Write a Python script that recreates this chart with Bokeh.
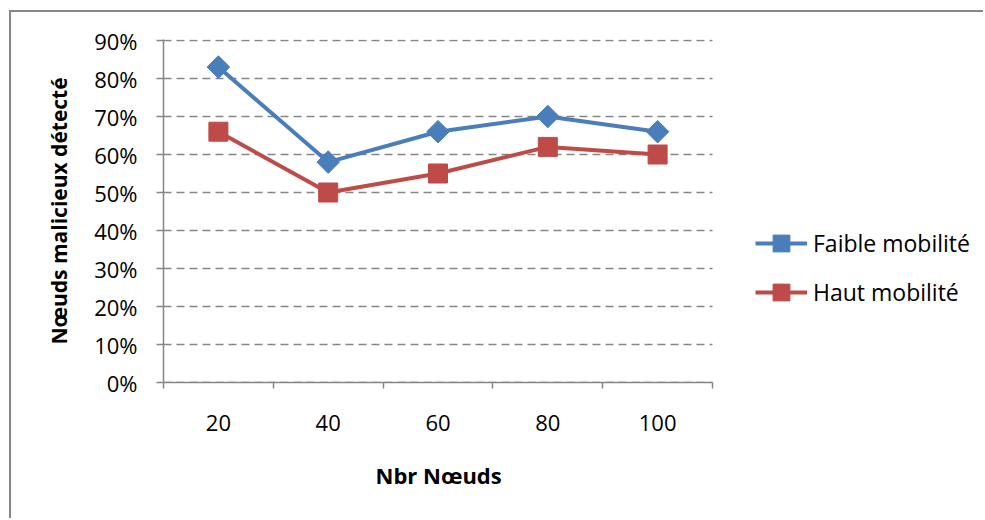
import numpy as np
from bokeh.plotting import figure
from bokeh.models import (FixedTicker, NumeralTickFormatter, Legend, LegendItem, Range1d, Title)
from bokeh.embed import file_html
from bokeh.resources import INLINE

# ---- data ----
categories = ["20", "40", "60", "80", "100"]
faible_mobilite = [0.83, 0.58, 0.66, 0.70, 0.66]
haut_mobilite = [0.66, 0.50, 0.55, 0.62, 0.60]
y_ticks = [0.0, 0.1, 0.2, 0.3, 0.4, 0.5, 0.6, 0.7, 0.8, 0.9]
series_names = ["Faible mobilité", "Haut mobilité"]
x_title = "Nbr Nœuds"
y_title = "Nœuds malicieux détecté"

BLUE = "#4A7EBB"
RED = "#BE4B48"
GRAY = "#868686"
FONT = "Open Sans"

n = len(categories)
xpos = [i + 0.5 for i in range(n)]
separators = [float(i) for i in range(n + 1)]

# canvas is offset by 9+2 px (left) and 10+2 px (top) for the outer chart border
W, H = 974, 508
left_b, top_b, bottom_b = 152, 27, 138
plot_w = 549                      # width of the category area in px
frame_w = W - left_b
frame_h = H - top_b - bottom_b
x_max = n * frame_w / plot_w      # frame continues to the right to host the legend
y_max = y_ticks[-1] * frame_h / (frame_h - 1)

p = figure(width=W, height=H, output_backend="svg", toolbar_location=None,
           x_range=Range1d(0, x_max), y_range=Range1d(0, y_max),
           min_border_left=left_b, min_border_right=0,
           min_border_top=top_b, min_border_bottom=bottom_b,
           margin=(10, 0, 0, 9),
           styles={"border-top": "2px solid #878787",
                   "border-left": "2px solid #878787"})
p.outline_line_color = None
p.background_fill_color = "white"
p.border_fill_color = "white"

# dashed horizontal grid over the category area only
p.segment(x0=[0] * len(y_ticks), x1=[n] * len(y_ticks), y0=y_ticks, y1=y_ticks,
          line_color=GRAY, line_width=1.6, line_dash="8 5", level="underlay")

# lines + markers
l1 = p.line(xpos, faible_mobilite, line_color=BLUE, line_width=4, line_join="round")
s1 = p.scatter(xpos, faible_mobilite, marker="square", angle=np.pi / 4, size=16,
               fill_color=BLUE, line_color=BLUE)
l2 = p.line(xpos, haut_mobilite, line_color=RED, line_width=4, line_join="round")
s2 = p.scatter(xpos, haut_mobilite, marker="square", size=19,
               fill_color=RED, line_color=RED)

# x axis
xa = p.xaxis[0]
xa.bounds = (0, n)
xa.ticker = FixedTicker(ticks=xpos, minor_ticks=separators)
xa.major_label_overrides = {x: c for x, c in zip(xpos, categories)}
xa.major_tick_out = 0
xa.major_tick_in = 0
xa.major_tick_line_color = None
xa.minor_tick_out = 6
xa.minor_tick_in = 0
xa.minor_tick_line_color = GRAY
xa.minor_tick_line_width = 1.5
xa.axis_line_color = GRAY
xa.axis_line_width = 1.5
xa.major_label_text_font = FONT
xa.major_label_text_font_size = "22px"
xa.major_label_text_color = "black"
xa.major_label_standoff = 26

# x axis title, centred under the category area
xt = Title(text=x_title, align="left", offset=212, vertical_align="top", standoff=52,
           text_font=FONT, text_font_style="bold", text_font_size="22px",
           text_color="black")
p.add_layout(xt, "below")

# y axis
ya = p.yaxis[0]
ya.ticker = FixedTicker(ticks=y_ticks, minor_ticks=[])
ya.formatter = NumeralTickFormatter(format="0%")
ya.major_tick_out = 7
ya.major_tick_in = 0
ya.major_tick_line_color = GRAY
ya.major_tick_line_width = 1.5
ya.minor_tick_out = 0
ya.minor_tick_in = 0
ya.axis_line_color = GRAY
ya.axis_line_width = 1.5
ya.major_label_text_font = FONT
ya.major_label_text_font_size = "22px"
ya.major_label_text_color = "black"
ya.major_label_standoff = 19
ya.axis_label = y_title
ya.axis_label_text_font = FONT
ya.axis_label_text_font_style = "bold"
ya.axis_label_text_font_size = "21px"
ya.axis_label_text_color = "black"
ya.axis_label_standoff = 18

p.xgrid.visible = False
p.ygrid.visible = False

legend = Legend(items=[LegendItem(label=series_names[0], renderers=[l1, s1]),
                       LegendItem(label=series_names[1], renderers=[l2, s2])],
                location=(592, 69), orientation="vertical",
                glyph_width=52, glyph_height=42, label_height=42,
                spacing=7, label_standoff=6, padding=0, margin=0,
                border_line_color=None, background_fill_alpha=0,
                label_text_font=FONT, label_text_font_size="23px",
                label_text_color="black")
p.add_layout(legend)

open("out.html", "w").write(file_html(p, INLINE))
